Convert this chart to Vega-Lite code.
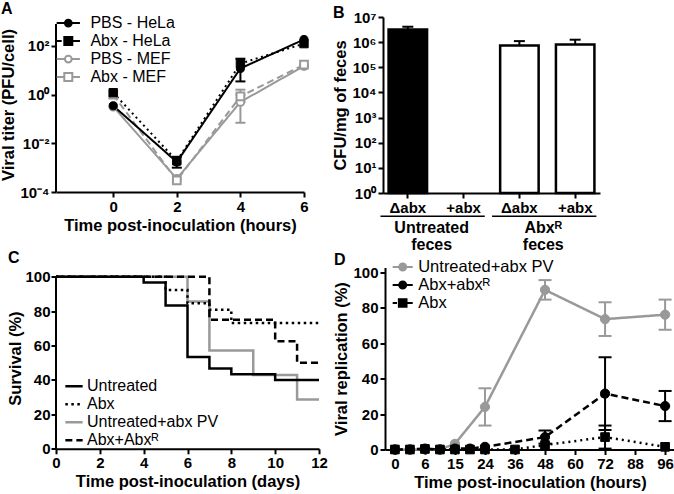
{
 "$schema": "https://vega.github.io/schema/vega-lite/v6.json",
 "padding": 0,
 "background": "white",
 "config": {
   "font": "Liberation Sans",
   "view": {"stroke": null},
   "axis": {"grid": false, "domainColor": "black", "domainWidth": 2, "tickColor": "black", "tickWidth": 2, "tickSize": 5, "labelFont": "Liberation Sans", "labelFontSize": 15, "labelFontWeight": "bold", "labelColor": "black", "labelFlush": false, "labelPadding": 2, "titleFont": "Liberation Sans", "titleFontSize": 16.5, "titleFontWeight": "bold", "titleColor": "black", "titlePadding": 3},
   "legend": {"labelFont": "Liberation Sans", "labelFontSize": 16.5, "labelColor": "black", "padding": 0, "rowPadding": 0, "symbolStrokeWidth": 2},
   "title": {"anchor": "start", "frame": "bounds", "font": "Liberation Sans", "fontSize": 16, "fontWeight": "bold", "color": "black"}
 },
 "datasets": {
   "a": [
     {"series": "PBS - MEF", "t": 0, "v": 0.32}, {"series": "PBS - MEF", "t": 2, "v": 0.00035}, {"series": "PBS - MEF", "t": 4, "v": 0.5}, {"series": "PBS - MEF", "t": 6, "v": 15},
     {"series": "Abx  - MEF", "t": 0, "v": 1.0}, {"series": "Abx  - MEF", "t": 2, "v": 0.0003}, {"series": "Abx  - MEF", "t": 4, "v": 0.85}, {"series": "Abx  - MEF", "t": 6, "v": 17},
     {"series": "PBS - HeLa", "t": 0, "v": 0.35}, {"series": "PBS - HeLa", "t": 2, "v": 0.0017}, {"series": "PBS - HeLa", "t": 4, "v": 12}, {"series": "PBS - HeLa", "t": 6, "v": 185},
     {"series": "Abx  - HeLa", "t": 0, "v": 1.2}, {"series": "Abx  - HeLa", "t": 2, "v": 0.0019}, {"series": "Abx  - HeLa", "t": 4, "v": 19}, {"series": "Abx  - HeLa", "t": 6, "v": 125}
   ],
   "aErr": [
     {"series": "PBS - MEF", "t": 4, "lo": 0.07, "hi": 1.0},
     {"series": "Abx  - MEF", "t": 4, "lo": 0.5, "hi": 1.6},
     {"series": "PBS - HeLa", "t": 2, "lo": 0.001, "hi": 0.0028},
     {"series": "Abx  - HeLa", "t": 4, "lo": 3.5, "hi": 30}
   ],
   "b": [
     {"cat": "1Δabx", "v": 3200000, "hi": 4100000},
     {"cat": "2+abx", "v": null, "hi": null},
     {"cat": "3Δabx", "v": 740000, "hi": 1100000},
     {"cat": "4+abx", "v": 810000, "hi": 1250000}
   ],
   "bg": [
     {"from": "1Δabx", "to": "2+abx", "label": "Untreated\nfeces"},
     {"from": "3Δabx", "to": "4+abx", "label": "Abxᴿ\nfeces"}
   ],
   "c": [
     {"series": "Untreated+abx PV", "d": 0, "s": 100}, {"series": "Untreated+abx PV", "d": 6, "s": 85.7}, {"series": "Untreated+abx PV", "d": 7, "s": 57.1}, {"series": "Untreated+abx PV", "d": 9, "s": 42.9}, {"series": "Untreated+abx PV", "d": 11, "s": 28.6}, {"series": "Untreated+abx PV", "d": 12, "s": 28.6},
     {"series": "Abx", "d": 0, "s": 100}, {"series": "Abx", "d": 5, "s": 92.3}, {"series": "Abx", "d": 6, "s": 84.6}, {"series": "Abx", "d": 7, "s": 80.8}, {"series": "Abx", "d": 8, "s": 73.1}, {"series": "Abx", "d": 12, "s": 73.1},
     {"series": "Abx+Abxᴿ", "d": 0, "s": 100}, {"series": "Abx+Abxᴿ", "d": 7, "s": 75}, {"series": "Abx+Abxᴿ", "d": 10, "s": 62.5}, {"series": "Abx+Abxᴿ", "d": 11, "s": 50}, {"series": "Abx+Abxᴿ", "d": 12, "s": 50},
     {"series": "Untreated", "d": 0, "s": 100}, {"series": "Untreated", "d": 4, "s": 96.7}, {"series": "Untreated", "d": 5, "s": 83.3}, {"series": "Untreated", "d": 6, "s": 53.3}, {"series": "Untreated", "d": 7, "s": 46.7}, {"series": "Untreated", "d": 8, "s": 43.3}, {"series": "Untreated", "d": 10, "s": 40}, {"series": "Untreated", "d": 12, "s": 40}
   ],
   "d": [
     {"series": "Untreated+abx PV", "t": "0", "v": 0}, {"series": "Untreated+abx PV", "t": "3", "v": 0}, {"series": "Untreated+abx PV", "t": "6", "v": 0}, {"series": "Untreated+abx PV", "t": "10", "v": 0}, {"series": "Untreated+abx PV", "t": "15", "v": 3.2}, {"series": "Untreated+abx PV", "t": "24", "v": 24}, {"series": "Untreated+abx PV", "t": "48", "v": 90}, {"series": "Untreated+abx PV", "t": "72", "v": 73.5}, {"series": "Untreated+abx PV", "t": "96", "v": 76},
     {"series": "Abx+abxᴿ", "t": "0", "v": 0}, {"series": "Abx+abxᴿ", "t": "3", "v": 0}, {"series": "Abx+abxᴿ", "t": "6", "v": 0.5}, {"series": "Abx+abxᴿ", "t": "10", "v": 0}, {"series": "Abx+abxᴿ", "t": "15", "v": 0.5}, {"series": "Abx+abxᴿ", "t": "20", "v": 0.5}, {"series": "Abx+abxᴿ", "t": "24", "v": 1.5}, {"series": "Abx+abxᴿ", "t": "48", "v": 7}, {"series": "Abx+abxᴿ", "t": "72", "v": 31.5}, {"series": "Abx+abxᴿ", "t": "96", "v": 24.5},
     {"series": "Abx", "t": "0", "v": 0}, {"series": "Abx", "t": "3", "v": 0}, {"series": "Abx", "t": "6", "v": 0.3}, {"series": "Abx", "t": "10", "v": 0}, {"series": "Abx", "t": "15", "v": 0}, {"series": "Abx", "t": "20", "v": 0}, {"series": "Abx", "t": "24", "v": 0}, {"series": "Abx", "t": "36", "v": 0}, {"series": "Abx", "t": "48", "v": 2.5}, {"series": "Abx", "t": "72", "v": 7}, {"series": "Abx", "t": "96", "v": 1.5}
   ],
   "dErr": [
     {"series": "Untreated+abx PV", "t": "24", "lo": 13.5, "hi": 34.5},
     {"series": "Untreated+abx PV", "t": "48", "lo": 84.5, "hi": 95.5},
     {"series": "Untreated+abx PV", "t": "72", "lo": 64, "hi": 83},
     {"series": "Untreated+abx PV", "t": "96", "lo": 67.5, "hi": 84.5},
     {"series": "Abx+abxᴿ", "t": "48", "lo": 3.3, "hi": 10.7},
     {"series": "Abx+abxᴿ", "t": "72", "lo": 11, "hi": 52},
     {"series": "Abx+abxᴿ", "t": "96", "lo": 16, "hi": 33},
     {"series": "Abx", "t": "72", "lo": 0.5, "hi": 13.5}
   ]
 },
 "spacing": -3.5,
 "resolve": {"scale": {"color": "independent", "fill": "independent", "stroke": "independent", "strokeDash": "independent", "shape": "independent"}, "legend": {"color": "independent", "fill": "independent", "stroke": "independent", "strokeDash": "independent", "shape": "independent"}},
 "vconcat": [
  {"hconcat": [
   {
    "title": {"text": "A", "offset": -3},
    "width": 248, "height": 175,
    "data": {"name": "a"},
    "encoding": {
      "x": {"field": "t", "type": "quantitative", "scale": {"domain": [-1.8, 6], "nice": false, "zero": false}, "axis": {"values": [0, 2, 4, 6], "title": "Time post-inoculation (hours)"}},
      "y": {"field": "v", "type": "quantitative", "scale": {"type": "log", "domain": [0.0001, 1552], "nice": false}, "axis": {"domain": false, "values": [0.0001, 0.01, 1, 100], "labelExpr": "'10' + (datum.value < 1 ? '⁻' : '') + ['⁰','¹','²','³','⁴','⁵','⁶','⁷'][abs(round(log(datum.value)/LN10))]", "title": "Viral titer (PFU/cell)"}}
    },
    "layer": [
     {"mark": {"type": "rule", "strokeWidth": 2, "color": "black"},
      "encoding": {"x": {"datum": -1.8, "type": "quantitative"}, "y": {"datum": 0.0001, "type": "quantitative"}, "y2": {"datum": 800}}},
     {"mark": {"type": "line", "strokeWidth": 2},
      "encoding": {
        "color": {"field": "series", "type": "nominal", "scale": {"domain": ["PBS - MEF", "Abx  - MEF", "PBS - HeLa", "Abx  - HeLa"], "range": ["#999999", "#999999", "black", "black"]}, "legend": null},
        "strokeDash": {"field": "series", "type": "nominal", "scale": {"domain": ["PBS - MEF", "Abx  - MEF", "PBS - HeLa", "Abx  - HeLa"], "range": [[1, 0], [7, 4], [1, 0], [2, 3.5]]}, "legend": null}
      }},
     {"data": {"name": "aErr"}, "mark": {"type": "rule", "strokeWidth": 2},
      "encoding": {"y": {"field": "lo", "type": "quantitative"}, "y2": {"field": "hi"}, "color": {"field": "series", "type": "nominal", "legend": null}}},
     {"data": {"name": "aErr"}, "mark": {"type": "tick", "orient": "horizontal", "size": 10, "thickness": 2, "opacity": 1},
      "encoding": {"y": {"field": "lo", "type": "quantitative"}, "color": {"field": "series", "type": "nominal", "legend": null}}},
     {"data": {"name": "aErr"}, "mark": {"type": "tick", "orient": "horizontal", "size": 10, "thickness": 2, "opacity": 1},
      "encoding": {"y": {"field": "hi", "type": "quantitative"}, "color": {"field": "series", "type": "nominal", "legend": null}}},
     {"transform": [{"filter": "datum.series === 'PBS - MEF'"}],
      "mark": {"type": "point", "shape": "circle", "filled": true, "fill": "white", "stroke": "#999999", "strokeWidth": 2, "size": 60, "opacity": 1}},
     {"transform": [{"filter": "datum.series === 'Abx  - MEF'"}],
      "mark": {"type": "point", "shape": "square", "filled": true, "fill": "white", "stroke": "#999999", "strokeWidth": 2, "size": 60, "opacity": 1}},
     {"transform": [{"filter": "datum.series === 'PBS - HeLa'"}],
      "mark": {"type": "point", "shape": "circle", "filled": true, "fill": "black", "stroke": "black", "strokeWidth": 1, "size": 65, "opacity": 1}},
     {"transform": [{"filter": "datum.series === 'Abx  - HeLa'"}],
      "mark": {"type": "point", "shape": "square", "filled": true, "fill": "black", "stroke": "black", "strokeWidth": 1, "size": 70, "opacity": 1}},
     {"transform": [{"filter": "datum.t > 100"}],
      "mark": {"type": "point", "opacity": 1, "strokeWidth": 2},
      "encoding": {
        "shape": {"field": "series", "type": "nominal", "scale": {"domain": ["PBS - HeLa", "Abx  - HeLa", "PBS - MEF", "Abx  - MEF"], "range": ["M-1.37,0H-0.4M0.4,0H1.37M0.4,0A0.4,0.4,0,1,1,-0.4,0A0.4,0.4,0,1,1,0.4,0Z", "M-1.37,0H-0.78M0.47,0H1.37M-0.47,-0.47H0.47V0.47H-0.47Z", "M-1.37,0H-0.4M0.4,0H1.37M0.4,0A0.4,0.4,0,1,1,-0.4,0A0.4,0.4,0,1,1,0.4,0Z", "M-1.37,0H-0.47M0.47,0H1.37M-0.47,-0.47H0.47V0.47H-0.47Z"]},
          "legend": {"title": null, "orient": "none", "legendX": 2.8, "legendY": -3.4, "symbolSize": 289, "labelOffset": 12.6, "rowPadding": 0, "labelFontSize": 16, "symbolStrokeWidth": 2, "symbolFillColor": "white", "symbolStrokeColor": "black"}},
        "fill": {"field": "series", "type": "nominal", "scale": {"domain": ["PBS - HeLa", "Abx  - HeLa", "PBS - MEF", "Abx  - MEF"], "range": ["black", "black", "white", "white"]},
          "legend": {"title": null, "orient": "none", "legendX": 2.8, "legendY": -3.4, "symbolSize": 289, "labelOffset": 12.6, "rowPadding": 0, "labelFontSize": 16, "symbolStrokeWidth": 2, "symbolFillColor": "white", "symbolStrokeColor": "black"}},
        "stroke": {"field": "series", "type": "nominal", "scale": {"domain": ["PBS - HeLa", "Abx  - HeLa", "PBS - MEF", "Abx  - MEF"], "range": ["black", "black", "#999999", "#999999"]},
          "legend": {"title": null, "orient": "none", "legendX": 2.8, "legendY": -3.4, "symbolSize": 289, "labelOffset": 12.6, "rowPadding": 0, "labelFontSize": 16, "symbolStrokeWidth": 2, "symbolFillColor": "white", "symbolStrokeColor": "black"}}
      }}
    ]
   },
   {
    "title": {"text": "B", "offset": -11},
    "width": 217, "height": 176,
    "layer": [
     {"data": {"name": "b"}, "mark": {"type": "bar", "stroke": "black", "strokeWidth": 2.5},
      "encoding": {
        "x": {"field": "cat", "type": "nominal", "scale": {"domain": ["1Δabx", "2+abx", "3Δabx", "4+abx"], "paddingInner": 0.31, "paddingOuter": 0.1}, "axis": {"labelExpr": "slice(datum.label, 1)", "labelAngle": 0, "title": null}},
        "y": {"field": "v", "type": "quantitative", "scale": {"type": "log", "domain": [1, 10000000], "nice": false}, "axis": {"values": [1, 10, 100, 1000, 10000, 100000, 1000000, 10000000], "labelExpr": "'10' + ['⁰','¹','²','³','⁴','⁵','⁶','⁷'][abs(round(log(datum.value)/LN10))]", "title": "CFU/mg of feces"}},
        "y2": {"datum": 1},
        "fill": {"field": "cat", "type": "nominal", "scale": {"domain": ["1Δabx", "2+abx", "3Δabx", "4+abx"], "range": ["black", "white", "white", "white"]}, "legend": null}
      }},
     {"data": {"name": "b"}, "mark": {"type": "rule", "strokeWidth": 2, "color": "black"},
      "encoding": {"x": {"field": "cat", "type": "nominal", "title": null}, "y": {"field": "v", "type": "quantitative"}, "y2": {"field": "hi"}}},
     {"data": {"name": "b"}, "mark": {"type": "tick", "orient": "horizontal", "size": 11, "thickness": 2, "color": "black", "opacity": 1},
      "encoding": {"x": {"field": "cat", "type": "nominal", "title": null}, "y": {"field": "hi", "type": "quantitative"}}},
     {"data": {"name": "bg"}, "mark": {"type": "rule", "strokeWidth": 1.5, "color": "black"},
      "encoding": {"x": {"field": "from", "type": "nominal", "bandPosition": -0.21, "title": null}, "x2": {"field": "to", "bandPosition": 1.05}, "y": {"datum": 0.118, "type": "quantitative"}}},
     {"data": {"name": "bg"}, "mark": {"type": "text", "fontSize": 16, "fontWeight": "bold", "baseline": "top", "lineBreak": "\n", "lineHeight": 16.5, "color": "black"},
      "encoding": {"x": {"field": "from", "type": "nominal", "bandPosition": 1.12, "title": null}, "y": {"datum": 0.084, "type": "quantitative"}, "text": {"field": "label"}}}
    ]
   }
  ], "spacing": 79, "bounds": "flush",
  "resolve": {"scale": {"color": "independent", "fill": "independent", "stroke": "independent", "strokeDash": "independent", "shape": "independent"}, "legend": {"color": "independent", "fill": "independent", "stroke": "independent", "strokeDash": "independent", "shape": "independent"}}},
  {"hconcat": [
   {
    "title": {"text": "C", "offset": 2},
    "width": 263, "height": 181.3,
    "data": {"name": "c"},
    "encoding": {
      "x": {"field": "d", "type": "quantitative", "scale": {"domain": [0, 12], "nice": false}, "axis": {"values": [0, 2, 4, 6, 8, 10, 12], "title": "Time post-inoculation (days)"}},
      "y": {"field": "s", "type": "quantitative", "scale": {"domain": [0, 105.4], "nice": false}, "axis": {"domain": false, "values": [0, 20, 40, 60, 80, 100], "title": "Survival (%)", "titlePadding": 1, "labelPadding": 1}}
    },
    "layer": [
     {"mark": {"type": "rule", "strokeWidth": 2, "color": "black"},
      "encoding": {"x": {"datum": 0, "type": "quantitative"}, "y": {"datum": 0, "type": "quantitative"}, "y2": {"datum": 100}}},
     {"mark": {"type": "line", "interpolate": "step-after", "strokeWidth": 2.5},
      "encoding": {
        "stroke": {"field": "series", "type": "nominal", "scale": {"domain": ["Untreated", "Abx", "Untreated+abx PV", "Abx+Abxᴿ"], "range": ["black", "black", "#999999", "black"]},
          "legend": {"title": null, "orient": "none", "legendX": 8, "legendY": 108.8, "symbolSize": 300, "symbolType": "stroke", "labelOffset": 3, "rowPadding": 0, "labelFontSize": 16, "symbolStrokeWidth": 2.5}},
        "strokeDash": {"field": "series", "type": "nominal", "scale": {"domain": ["Untreated", "Abx", "Untreated+abx PV", "Abx+Abxᴿ"], "range": [[1, 0], [2.5, 3.5], [1, 0], [7, 4]]},
          "legend": {"title": null, "orient": "none", "legendX": 8, "legendY": 108.8, "symbolSize": 300, "symbolType": "stroke", "labelOffset": 3, "rowPadding": 0, "labelFontSize": 16, "symbolStrokeWidth": 2.5}}
      }}
    ]
   },
   {
    "title": {"text": "D", "offset": -10.3},
    "width": 290, "height": 182,
    "data": {"name": "d"},
    "encoding": {
      "x": {"field": "t", "type": "ordinal", "scale": {"type": "point", "domain": ["0", "3", "6", "10", "15", "20", "24", "30", "36", "42", "48", "54", "60", "66", "72", "80", "88", "92", "96"], "padding": 0.66}, "axis": {"values": ["0", "6", "15", "24", "36", "48", "60", "72", "88", "96"], "labelAngle": 0, "title": "Time post-inoculation (hours)"}},
      "y": {"field": "v", "type": "quantitative", "scale": {"domain": [0, 102.6], "nice": false}, "axis": {"values": [0, 20, 40, 60, 80, 100], "title": "Viral replication (%)"}}
    },
    "layer": [
     {"mark": {"type": "line", "strokeWidth": 2.5},
      "encoding": {
        "color": {"field": "series", "type": "nominal", "scale": {"domain": ["Abx", "Abx+abxᴿ", "Untreated+abx PV"], "range": ["black", "black", "#999999"]}, "legend": null},
        "strokeDash": {"field": "series", "type": "nominal", "scale": {"domain": ["Abx", "Abx+abxᴿ", "Untreated+abx PV"], "range": [[2, 4], [7, 4], [1, 0]]}, "legend": null}
      }},
     {"data": {"name": "dErr"}, "mark": {"type": "rule", "strokeWidth": 2},
      "encoding": {"y": {"field": "lo", "type": "quantitative"}, "y2": {"field": "hi"}, "color": {"field": "series", "type": "nominal", "legend": null}}},
     {"data": {"name": "dErr"}, "mark": {"type": "tick", "orient": "horizontal", "size": 13, "thickness": 2, "opacity": 1},
      "encoding": {"y": {"field": "lo", "type": "quantitative"}, "color": {"field": "series", "type": "nominal", "legend": null}}},
     {"data": {"name": "dErr"}, "mark": {"type": "tick", "orient": "horizontal", "size": 13, "thickness": 2, "opacity": 1},
      "encoding": {"y": {"field": "hi", "type": "quantitative"}, "color": {"field": "series", "type": "nominal", "legend": null}}},
     {"transform": [{"filter": "datum.series === 'Untreated+abx PV'"}],
      "mark": {"type": "point", "shape": "circle", "filled": true, "fill": "#999999", "stroke": "#999999", "strokeWidth": 1, "size": 85, "opacity": 1}},
     {"transform": [{"filter": "datum.series === 'Abx+abxᴿ'"}],
      "mark": {"type": "point", "shape": "circle", "filled": true, "fill": "black", "stroke": "black", "strokeWidth": 1, "size": 85, "opacity": 1}},
     {"transform": [{"filter": "datum.series === 'Abx'"}],
      "mark": {"type": "point", "shape": "square", "filled": true, "fill": "black", "stroke": "black", "strokeWidth": 1, "size": 75, "opacity": 1}},
     {"transform": [{"filter": "datum.v > 1000"}],
      "mark": {"type": "point", "opacity": 1, "strokeWidth": 2},
      "encoding": {
        "shape": {"field": "series", "type": "nominal", "scale": {"domain": ["Untreated+abx PV", "Abx+abxᴿ", "Abx"], "range": ["M-1.18,0H-0.41M0.41,0H1.18M0.41,0A0.41,0.41,0,1,1,-0.41,0A0.41,0.41,0,1,1,0.41,0Z", "M-1.18,0H-0.41M0.41,0H1.18M0.41,0A0.41,0.41,0,1,1,-0.41,0A0.41,0.41,0,1,1,0.41,0Z", "M-1.18,0H-0.67M0.45,0H1.18M-0.45,-0.45H0.45V0.45H-0.45Z"]},
          "legend": {"title": null, "orient": "none", "legendX": 8.2, "legendY": -10, "symbolSize": 289, "labelOffset": 6, "rowPadding": 0, "symbolStrokeWidth": 2, "symbolFillColor": "white", "symbolStrokeColor": "black"}},
        "fill": {"field": "series", "type": "nominal", "scale": {"domain": ["Untreated+abx PV", "Abx+abxᴿ", "Abx"], "range": ["#999999", "black", "black"]},
          "legend": {"title": null, "orient": "none", "legendX": 8.2, "legendY": -10, "symbolSize": 289, "labelOffset": 6, "rowPadding": 0, "symbolStrokeWidth": 2, "symbolFillColor": "white", "symbolStrokeColor": "black"}},
        "stroke": {"field": "series", "type": "nominal", "scale": {"domain": ["Untreated+abx PV", "Abx+abxᴿ", "Abx"], "range": ["#999999", "black", "black"]},
          "legend": {"title": null, "orient": "none", "legendX": 8.2, "legendY": -10, "symbolSize": 289, "labelOffset": 6, "rowPadding": 0, "symbolStrokeWidth": 2, "symbolFillColor": "white", "symbolStrokeColor": "black"}}
      }}
    ]
   }
  ], "spacing": 66, "bounds": "flush",
  "resolve": {"scale": {"color": "independent", "fill": "independent", "stroke": "independent", "strokeDash": "independent", "shape": "independent"}, "legend": {"color": "independent", "fill": "independent", "stroke": "independent", "strokeDash": "independent", "shape": "independent"}}}
 ]
}
